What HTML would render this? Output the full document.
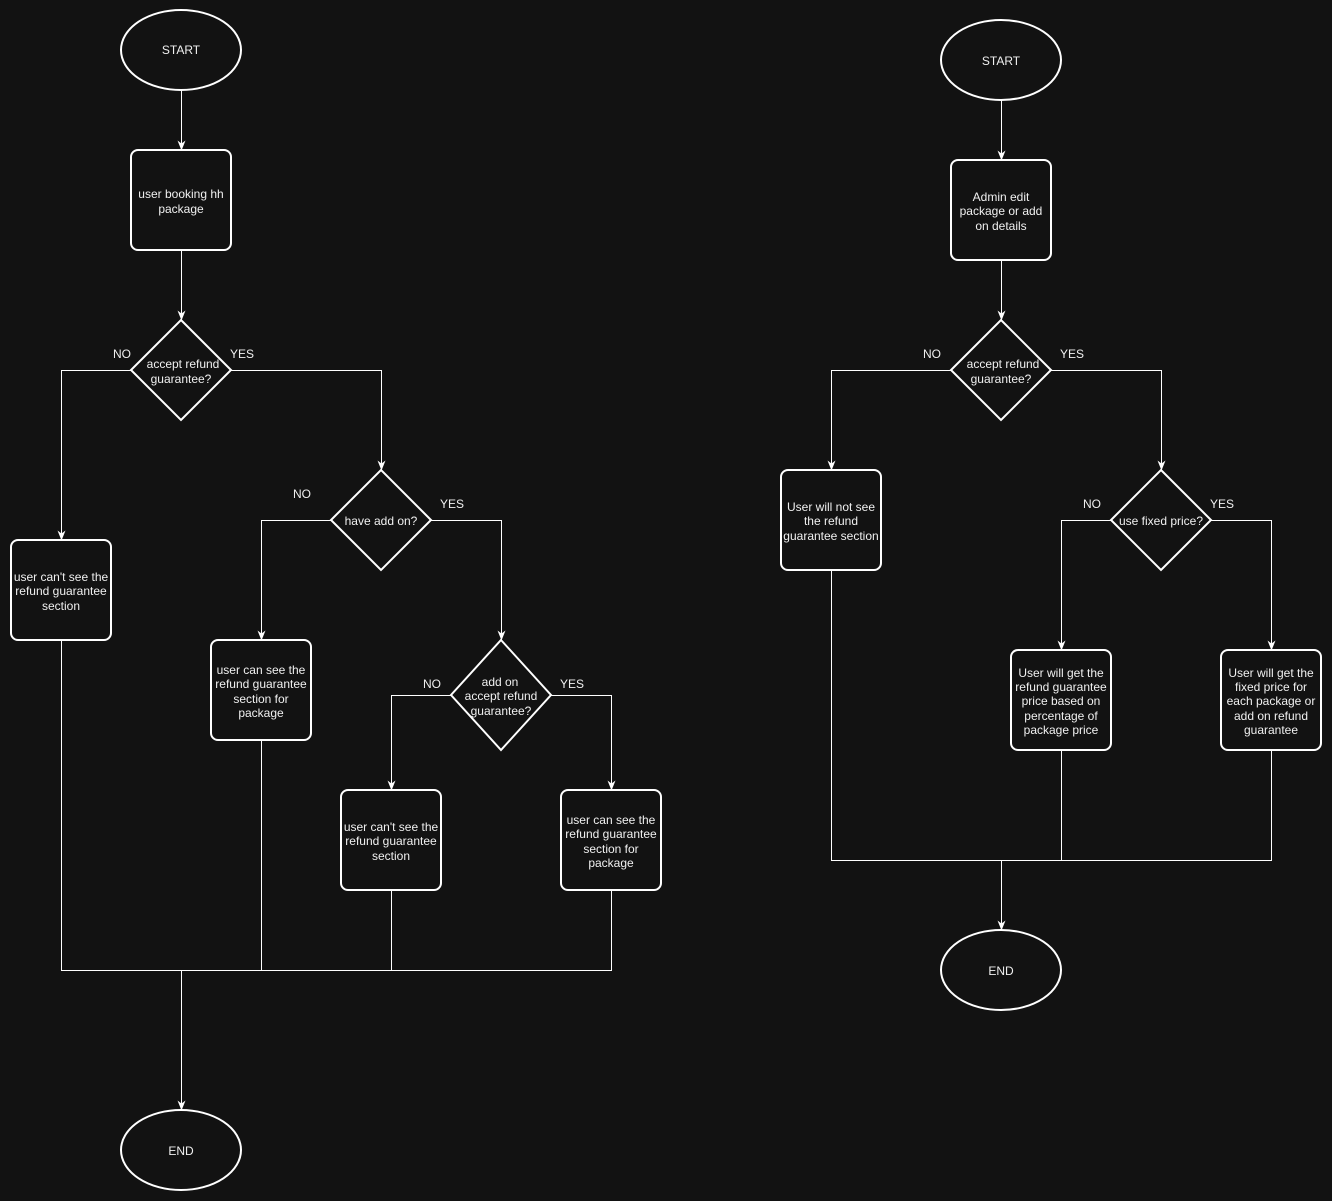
<!DOCTYPE html>
<html><head><meta charset="utf-8"><style>
html,body{margin:0;padding:0;background:#121212;}
svg{display:block}
text{font-family:"Liberation Sans",Arial,sans-serif;font-size:12px;fill:#f0f0f0;text-anchor:middle}
.n{fill:#121212;stroke:#fff;stroke-width:2}
.e{fill:none;stroke:#fff;stroke-width:1}
</style></head><body>
<svg width="1332" height="1201" viewBox="0 0 1332 1201" xmlns="http://www.w3.org/2000/svg">
<defs><marker id="a" viewBox="0 0 10 10" refX="10" refY="5" markerWidth="10" markerHeight="10" markerUnits="userSpaceOnUse" orient="auto"><path d="M0,1 L10,5 L0,9 L3,5 Z" fill="#fff"/></marker></defs>
<rect width="1332" height="1201" fill="#121212"/>
<g transform="translate(0.5,0.5)">
<path class="e" d="M181,90V150" marker-end="url(#a)"/>
<path class="e" d="M181,250V320" marker-end="url(#a)"/>
<path class="e" d="M131,370H61V540" marker-end="url(#a)"/>
<path class="e" d="M231,370H381V470" marker-end="url(#a)"/>
<path class="e" d="M331,520H261V640" marker-end="url(#a)"/>
<path class="e" d="M431,520H501V640" marker-end="url(#a)"/>
<path class="e" d="M451,695H391V790" marker-end="url(#a)"/>
<path class="e" d="M551,695H611V790" marker-end="url(#a)"/>
<path class="e" d="M61,640V970H611V890M261,740V970M391,890V970"/>
<path class="e" d="M181,970V1110" marker-end="url(#a)"/>
<path class="e" d="M1001,100V160" marker-end="url(#a)"/>
<path class="e" d="M1001,260V320" marker-end="url(#a)"/>
<path class="e" d="M951,370H831V470" marker-end="url(#a)"/>
<path class="e" d="M1051,370H1161V470" marker-end="url(#a)"/>
<path class="e" d="M1111,520H1061V650" marker-end="url(#a)"/>
<path class="e" d="M1211,520H1271V650" marker-end="url(#a)"/>
<path class="e" d="M831,570V860H1271V750M1061,750V860"/>
<path class="e" d="M1001,860V930" marker-end="url(#a)"/>
</g>
<ellipse class="n" cx="181" cy="50" rx="60" ry="40"/><text x="181" y="54">START</text>
<rect class="n" x="131" y="150" width="100" height="100" rx="7"/><text x="181" y="198">user booking hh</text><text x="181" y="213">package</text>
<path class="n" d="M181,320L231,370L181,420L131,370Z"/><text x="183" y="368">accept refund</text><text x="181" y="383">guarantee?</text>
<text x="122" y="358">NO</text><text x="242" y="358">YES</text>
<rect class="n" x="11" y="540" width="100" height="100" rx="7"/><text x="61" y="581">user can't see the</text><text x="61" y="595">refund guarantee</text><text x="61" y="610">section</text>
<path class="n" d="M381,470L431,520L381,570L331,520Z"/><text x="381" y="525">have add on?</text>
<text x="302" y="498">NO</text><text x="452" y="508">YES</text>
<rect class="n" x="211" y="640" width="100" height="100" rx="7"/><text x="261" y="674">user can see the</text><text x="261" y="688">refund guarantee</text><text x="261" y="703">section for</text><text x="261" y="717">package</text>
<path class="n" d="M501,640L551,695L501,750L451,695Z"/><text x="500" y="686">add on</text><text x="501" y="700">accept refund</text><text x="501" y="715">guarantee?</text>
<text x="432" y="688">NO</text><text x="572" y="688">YES</text>
<rect class="n" x="341" y="790" width="100" height="100" rx="7"/><text x="391" y="831">user can't see the</text><text x="391" y="845">refund guarantee</text><text x="391" y="860">section</text>
<rect class="n" x="561" y="790" width="100" height="100" rx="7"/><text x="611" y="824">user can see the</text><text x="611" y="838">refund guarantee</text><text x="611" y="853">section for</text><text x="611" y="867">package</text>
<ellipse class="n" cx="181" cy="1150" rx="60" ry="40"/><text x="181" y="1155">END</text>
<ellipse class="n" cx="1001" cy="60" rx="60" ry="40"/><text x="1001" y="65">START</text>
<rect class="n" x="951" y="160" width="100" height="100" rx="7"/><text x="1001" y="201">Admin edit</text><text x="1001" y="215">package or add</text><text x="1001" y="230">on details</text>
<path class="n" d="M1001,320L1051,370L1001,420L951,370Z"/><text x="1003" y="368">accept refund</text><text x="1001" y="383">guarantee?</text>
<text x="932" y="358">NO</text><text x="1072" y="358">YES</text>
<rect class="n" x="781" y="470" width="100" height="100" rx="7"/><text x="831" y="511">User will not see</text><text x="831" y="525">the refund</text><text x="831" y="540">guarantee section</text>
<path class="n" d="M1161,470L1211,520L1161,570L1111,520Z"/><text x="1161" y="525">use fixed price?</text>
<text x="1092" y="508">NO</text><text x="1222" y="508">YES</text>
<rect class="n" x="1011" y="650" width="100" height="100" rx="7"/><text x="1061" y="677">User will get the</text><text x="1061" y="691">refund guarantee</text><text x="1061" y="705">price based on</text><text x="1061" y="720">percentage of</text><text x="1061" y="734">package price</text>
<rect class="n" x="1221" y="650" width="100" height="100" rx="7"/><text x="1271" y="677">User will get the</text><text x="1271" y="691">fixed price for</text><text x="1271" y="705">each package or</text><text x="1271" y="720">add on refund</text><text x="1271" y="734">guarantee</text>
<ellipse class="n" cx="1001" cy="970" rx="60" ry="40"/><text x="1001" y="975">END</text>
</svg>
</body></html>
